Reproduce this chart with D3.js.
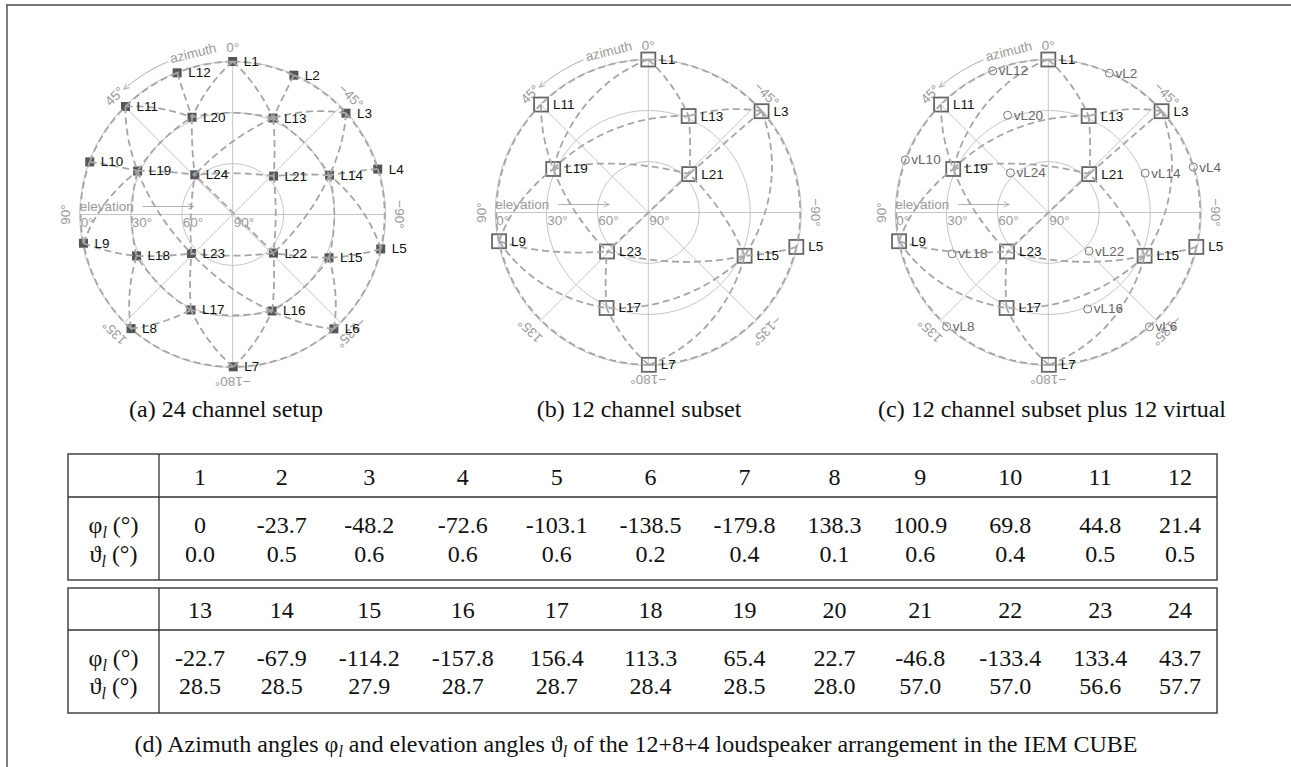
<!DOCTYPE html>
<html lang="en">
<head>
<meta charset="utf-8">
<title>IEM CUBE loudspeaker layout</title>
<script src="https://cdn.jsdelivr.net/npm/d3@7"></script>
<style>
  body { margin: 0; background: #fff; }
  svg { display: block; }
  .grid { fill: none; stroke: #c6c6c6; stroke-width: 1; }
  .tick { font-family: "Liberation Sans", Arial, sans-serif; font-size: 13.5px; fill: #9a9a9a; }
  .spk { font-family: "Liberation Sans", Arial, sans-serif; font-size: 13.5px; fill: #111; }
  .vspk { font-family: "Liberation Sans", Arial, sans-serif; font-size: 13.5px; fill: #666; }
  .hull { fill: none; stroke: #a6a6a6; stroke-width: 1.8; stroke-dasharray: 7,4; }
  .serif { font-family: "Liberation Serif", "Times New Roman", serif; font-size: 24px; fill: #111; }
</style>
</head>
<body>
<script>
// loudspeaker directions of the IEM CUBE (degrees)
var channels = d3.range(1, 25);
var azimuth = [0, -23.7, -48.2, -72.6, -103.1, -138.5, -179.8, 138.3, 100.9, 69.8, 44.8, 21.4,
               -22.7, -67.9, -114.2, -157.8, 156.4, 113.3, 65.4, 22.7, -46.8, -133.4, 133.4, 43.7];
var elevation = [0.0, 0.5, 0.6, 0.6, 0.6, 0.2, 0.4, 0.1, 0.6, 0.4, 0.5, 0.5,
                 28.5, 28.5, 27.9, 28.7, 28.7, 28.4, 28.5, 28.0, 57.0, 57.0, 56.6, 57.7];
// subset for (b)/(c), the other ones become virtual speakers in (c)
var subset = [1, 3, 5, 7, 9, 11, 13, 15, 17, 19, 21, 23];
var virtualSpk = [2, 4, 6, 8, 10, 12, 14, 16, 18, 20, 22, 24];
var azTicks = [0, 45, 90, 135, -180, -135, -90, -45];
var elTicks = [0, 30, 60, 90];
var captions = ["(a) 24 channel setup", "(b) 12 channel subset", "(c) 12 channel subset plus 12 virtual"];
var captionD = "of the 12+8+4 loudspeaker arrangement in the IEM CUBE";

var width = 1291, height = 767;
var R = 153;
var deg = Math.PI / 180;

var svg = d3.select("body").append("svg")
    .attr("width", width)
    .attr("height", height);

var defs = svg.append("defs");
defs.append("marker")
    .attr("id", "arr")
    .attr("viewBox", "-1 -5 10 10")
    .attr("refX", 8).attr("refY", 0)
    .attr("markerWidth", 7).attr("markerHeight", 7)
    .attr("markerUnits", "userSpaceOnUse")
    .attr("orient", "auto")
    .append("path")
    .attr("d", "M0,-4L8,0L0,4")
    .attr("fill", "none")
    .attr("stroke", "#aaa")
    .attr("stroke-width", 1.2);

// frame (only top and left edge are visible)
svg.append("line").attr("x1", 6).attr("x2", width).attr("y1", 5).attr("y2", 5)
    .attr("stroke", "#777").attr("stroke-width", 2);
svg.append("line").attr("x1", 7).attr("x2", 7).attr("y1", 5).attr("y2", height)
    .attr("stroke", "#555").attr("stroke-width", 1.5);

function toVec(az, el) {
    return [Math.cos(el * deg) * Math.cos(az * deg), Math.cos(el * deg) * Math.sin(az * deg), Math.sin(el * deg)];
}
function sub(a, b) { return [a[0] - b[0], a[1] - b[1], a[2] - b[2]]; }
function dot(a, b) { return a[0] * b[0] + a[1] * b[1] + a[2] * b[2]; }
function cross(a, b) { return [a[1] * b[2] - a[2] * b[1], a[2] * b[0] - a[0] * b[2], a[0] * b[1] - a[1] * b[0]]; }

// convex hull (brute force) with an imaginary speaker at the nadir, edges to it are dropped
function hullEdges(ids) {
    var P = ids.map(function (c) { return toVec(azimuth[c - 1], elevation[c - 1]); });
    P.push([0, 0, -1]);
    var n = P.length, nadir = n - 1, seen = {}, edges = [];
    function add(i, j) {
        if (i === nadir || j === nadir) return;
        var key = Math.min(i, j) + "-" + Math.max(i, j);
        if (seen[key]) return;
        seen[key] = true;
        edges.push([ids[i], ids[j]]);
    }
    for (var i = 0; i < n; i++)
        for (var j = i + 1; j < n; j++)
            for (var k = j + 1; k < n; k++) {
                var nrm = cross(sub(P[j], P[i]), sub(P[k], P[i]));
                var pos = 0, neg = 0;
                for (var m = 0; m < n; m++) {
                    if (m === i || m === j || m === k) continue;
                    var d = dot(nrm, sub(P[m], P[i]));
                    if (d > 1e-10) pos++; else if (d < -1e-10) neg++;
                }
                if (pos === 0 || neg === 0) { add(i, j); add(j, k); add(i, k); }
            }
    return edges;
}

var panels = [
    { cx: 232.7, cy: 214.5, real: channels, virt: [], filled: true, capX: 226 },
    { cx: 648.3, cy: 212.5, real: subset, virt: [], filled: false, capX: 639 },
    { cx: 1048.3, cy: 212.5, real: subset, virt: virtualSpk, filled: false, capX: 1052 }
];

var rScale = d3.scaleLinear().domain([0, 90]).range([R, 0]);

function project(v) {
    var el = Math.asin(Math.max(-1, Math.min(1, v[2]))) / deg;
    var rho = Math.hypot(v[0], v[1]) || 1e-12;
    var r = rScale(el);
    return [-r * v[1] / rho, -r * v[0] / rho];
}
function pos(c) { return project(toVec(azimuth[c - 1], elevation[c - 1])); }

function greatArc(a, b) {
    var va = toVec(azimuth[a - 1], elevation[a - 1]), vb = toVec(azimuth[b - 1], elevation[b - 1]);
    var om = Math.acos(Math.max(-1, Math.min(1, dot(va, vb))));
    return d3.range(0, 41).map(function (s) {
        var t = s / 40;
        var wa = Math.sin((1 - t) * om) / Math.sin(om), wb = Math.sin(t * om) / Math.sin(om);
        return project([wa * va[0] + wb * vb[0], wa * va[1] + wb * vb[1], wa * va[2] + wb * vb[2]]);
    });
}

var line = d3.line();

panels.forEach(function (p, pi) {
    var g = svg.append("g").attr("transform", "translate(" + p.cx + "," + p.cy + ")");

    // rings and spokes
    g.selectAll("circle.grid")
        .data(elTicks.filter(function (e) { return e < 90; }))
        .join("circle")
        .attr("class", "grid")
        .attr("r", function (e) { return rScale(e); });
    g.selectAll("line.spoke")
        .data(azTicks)
        .join("line")
        .attr("class", "grid spoke")
        .attr("x2", function (a) { return -R * Math.sin(a * deg); })
        .attr("y2", function (a) { return -R * Math.cos(a * deg); });

    // azimuth tick labels
    g.selectAll("text.az")
        .data(azTicks)
        .join("text")
        .attr("class", "tick az")
        .attr("text-anchor", "middle")
        .attr("dominant-baseline", "central")
        .attr("transform", function (a) {
            var r = R + 14;
            return "translate(" + (-r * Math.sin(a * deg)) + "," + (-r * Math.cos(a * deg)) + ") rotate(" + (-a) + ")";
        })
        .text(function (a) { return (a < 0 ? "\u2212" + (-a) : a) + "°"; });

    // azimuth label and arrow
    var ra = R + 13;
    g.append("text")
        .attr("class", "tick")
        .attr("text-anchor", "middle")
        .attr("dominant-baseline", "central")
        .attr("transform", "translate(" + (-ra * Math.sin(13.8 * deg)) + "," + (-ra * Math.cos(13.8 * deg)) + ") rotate(-13.8)")
        .text("azimuth");
    var ap = d3.path();
    ap.arc(0, 0, ra, -(90 + 23) * deg, -(90 + 41) * deg, true);
    g.append("path")
        .attr("d", ap.toString())
        .attr("fill", "none")
        .attr("stroke", "#b0b0b0")
        .attr("marker-end", "url(#arr)");

    // elevation label and arrow
    g.append("text")
        .attr("class", "tick")
        .attr("x", -R)
        .attr("y", -8)
        .attr("dominant-baseline", "central")
        .text("elevation");
    g.append("line")
        .attr("x1", -rScale(37)).attr("x2", -rScale(67))
        .attr("y1", -8).attr("y2", -8)
        .attr("stroke", "#b0b0b0")
        .attr("marker-end", "url(#arr)");
    g.selectAll("text.el")
        .data(elTicks)
        .join("text")
        .attr("class", "tick el")
        .attr("x", function (e) { return -rScale(e) + 1; })
        .attr("y", 8)
        .attr("dominant-baseline", "central")
        .text(function (e) { return e + "°"; });

    // loudspeaker markers
    var sq = p.filled ? 9 : 14;
    g.selectAll("rect.spk")
        .data(p.real)
        .join("rect")
        .attr("x", function (c) { return pos(c)[0] - sq / 2; })
        .attr("y", function (c) { return pos(c)[1] - sq / 2; })
        .attr("width", sq).attr("height", sq)
        .attr("fill", p.filled ? "#555" : "none")
        .attr("stroke", p.filled ? "none" : "#666")
        .attr("stroke-width", 1.8);
    g.selectAll("circle.v")
        .data(p.virt)
        .join("circle")
        .attr("class", "v")
        .attr("cx", function (c) { return pos(c)[0]; })
        .attr("cy", function (c) { return pos(c)[1]; })
        .attr("r", 4)
        .attr("fill", "none")
        .attr("stroke", "#777")
        .attr("stroke-width", 1);

    // triangulation edges (great circle arcs)
    g.selectAll("path.hull")
        .data(hullEdges(p.real))
        .join("path")
        .attr("class", "hull")
        .attr("d", function (e) { return line(greatArc(e[0], e[1])); });

    // labels
    g.selectAll("text.spk")
        .data(p.real)
        .join("text")
        .attr("class", "spk")
        .attr("x", function (c) { return pos(c)[0] + (p.filled ? 11 : 12); })
        .attr("y", function (c) { return pos(c)[1]; })
        .attr("dominant-baseline", "central")
        .text(function (c) { return "L" + c; });
    g.selectAll("text.vspk")
        .data(p.virt)
        .join("text")
        .attr("class", "vspk")
        .attr("x", function (c) { return pos(c)[0] + 6; })
        .attr("y", function (c) { return pos(c)[1]; })
        .attr("dominant-baseline", "central")
        .text(function (c) { return "vL" + c; });

    svg.append("text")
        .attr("class", "serif")
        .attr("x", p.capX)
        .attr("y", 417)
        .attr("text-anchor", "middle")
        .text(captions[pi]);
});

// ---- table (d) ----
var fmtAz = function (v) { return v === 0 ? "0" : v.toFixed(1); };
var fmtEl = function (v) { return v.toFixed(1); };
var blocks = [channels.slice(0, 12), channels.slice(12)];
var tLeft = 68, tSep = 159, tRight = 1217;
var blockY = [
    { top: 454, mid: 497, bot: 580, hdr: 485, phi: 533, th: 562 },
    { top: 588, mid: 630, bot: 713, hdr: 618, phi: 665.5, th: 694 }
];

// column widths like a latex tabular: widest entry + equal padding
var probe = svg.append("text").attr("class", "serif");
function tw(s) { probe.text(s); return probe.node().getComputedTextLength(); }
var colW = d3.range(12).map(function (j) {
    return d3.max(blocks, function (b) {
        var c = b[j];
        return Math.max(tw(String(c)), tw(fmtAz(azimuth[c - 1])), tw(fmtEl(elevation[c - 1])));
    });
});
probe.remove();
var pad = (tRight - tSep - d3.sum(colW)) / 12;
var colX = [];
colW.reduce(function (acc, w) { colX.push(acc + (w + pad) / 2); return acc + w + pad; }, tSep);

function rowLabel(sel, sym, y) {
    var t = sel.append("text").attr("class", "serif").attr("x", (tLeft + tSep) / 2).attr("y", y)
        .attr("text-anchor", "middle");
    t.append("tspan").text(sym);
    t.append("tspan").attr("font-style", "italic").attr("font-size", "16px").attr("dy", 5).text("l");
    t.append("tspan").attr("dy", -5).text(" (°)");
}

blocks.forEach(function (b, bi) {
    var L = blockY[bi];
    var g = svg.append("g");
    g.append("rect")
        .attr("x", tLeft).attr("y", L.top)
        .attr("width", tRight - tLeft).attr("height", L.bot - L.top)
        .attr("fill", "none").attr("stroke", "#444").attr("stroke-width", 1.5);
    g.append("line").attr("x1", tLeft).attr("x2", tRight).attr("y1", L.mid).attr("y2", L.mid)
        .attr("stroke", "#333").attr("stroke-width", 1.3);
    g.append("line").attr("x1", tSep).attr("x2", tSep).attr("y1", L.top).attr("y2", L.bot)
        .attr("stroke", "#333").attr("stroke-width", 1.3);

    [["hdr", function (c) { return String(c); }],
     ["phi", function (c) { return fmtAz(azimuth[c - 1]); }],
     ["th", function (c) { return fmtEl(elevation[c - 1]); }]].forEach(function (row) {
        g.selectAll("text.r" + row[0])
            .data(b)
            .join("text")
            .attr("class", "serif r" + row[0])
            .attr("x", function (c, j) { return colX[j]; })
            .attr("y", L[row[0]])
            .attr("text-anchor", "middle")
            .text(row[1]);
    });
    rowLabel(g, "\u03c6", L.phi);
    rowLabel(g, "\u03d1", L.th);
});

// caption (d)
var cap = svg.append("text").attr("class", "serif").attr("x", 636).attr("y", 752).attr("text-anchor", "middle");
cap.append("tspan").text("(d) Azimuth angles \u03c6");
cap.append("tspan").attr("font-style", "italic").attr("font-size", "16px").attr("dy", 5).text("l");
cap.append("tspan").attr("dy", -5).text(" and elevation angles \u03d1");
cap.append("tspan").attr("font-style", "italic").attr("font-size", "16px").attr("dy", 5).text("l");
cap.append("tspan").attr("dy", -5).text(" " + captionD);
</script>
</body>
</html>
